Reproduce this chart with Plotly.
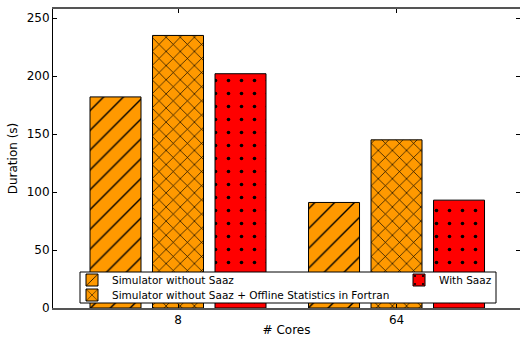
import plotly.graph_objects as go

cores = ["8", "64"]
positions = [0, 1]
series_names = [
    "Simulator without Saaz",
    "Simulator without Saaz + Offline Statistics in Fortran",
    "With Saaz",
]
no_saaz = [182, 91]
no_saaz_offline = [235, 145]
with_saaz = [202, 93]

values = [no_saaz, no_saaz_offline, with_saaz]
colors = ["#FF9900", "#FF9900", "#FF0000"]
patterns = [
    dict(shape="/", size=14, solidity=0.1, fgcolor="black", fgopacity=1),
    dict(shape="x", size=10, solidity=0.13, fgcolor="black", fgopacity=1),
    dict(shape=".", size=13, solidity=0.06, fgcolor="black", fgopacity=1),
]
legends = ["legend", "legend3", "legend2"]

FONT = "DejaVu Sans"
W, H = 520, 337
L, R, T, B = 53, 0, 9, 29
pw, ph = W - L - R, H - T - B

fig = go.Figure()
for name, vals, c, p, lg in zip(series_names, values, colors, patterns, legends):
    fig.add_trace(go.Bar(
        x=positions, y=vals, name=name, legend=lg,
        marker=dict(color=c, line=dict(color="black", width=1), pattern=p),
    ))

def px_x(x):
    return (x - L) / pw

def px_y(y):
    return (H - B - y) / ph

fig.add_shape(type="rect", xref="paper", yref="paper",
              x0=px_x(80), x1=px_x(496), y0=px_y(303), y1=px_y(272),
              line=dict(color="black", width=1), fillcolor="white", layer="above")

legfont = dict(family=FONT, size=10.5)
def leg(xp, yc):
    return dict(x=px_x(xp), y=px_y(yc), xanchor="left", yanchor="middle",
                bgcolor="rgba(0,0,0,0)", borderwidth=0, font=legfont,
                itemwidth=30, orientation="h")

fig.update_layout(
    width=W, height=H,
    margin=dict(l=L, r=R, t=T, b=B),
    paper_bgcolor="white", plot_bgcolor="white",
    font=dict(family=FONT, size=12, color="black"),
    barmode="group", bargap=0.142, bargroupgap=0.184,
    showlegend=True,
    legend=leg(72, 280),
    legend3=leg(72, 295),
    legend2=leg(399, 280),
    xaxis=dict(range=[-0.572, 1.565], tickvals=positions, ticktext=cores,
               ticks="inside", ticklen=4, tickcolor="black", mirror="ticks",
               showline=True, linecolor="#555", linewidth=1.5, showgrid=False,
               zeroline=False, tickfont=dict(family=FONT, size=12),
               title=dict(text="# Cores", font=dict(family=FONT, size=12), standoff=2)),
    yaxis=dict(range=[0, 257.8], tickvals=[0, 50, 100, 150, 200, 250],
               ticks="inside", ticklen=4, tickcolor="black", mirror="ticks",
               showline=True, linecolor="black", linewidth=1, showgrid=False,
               zeroline=False, tickfont=dict(family=FONT, size=12),
               title=dict(text="Duration (s)", font=dict(family=FONT, size=12), standoff=6)),
)

fig.write_html("out.html")
